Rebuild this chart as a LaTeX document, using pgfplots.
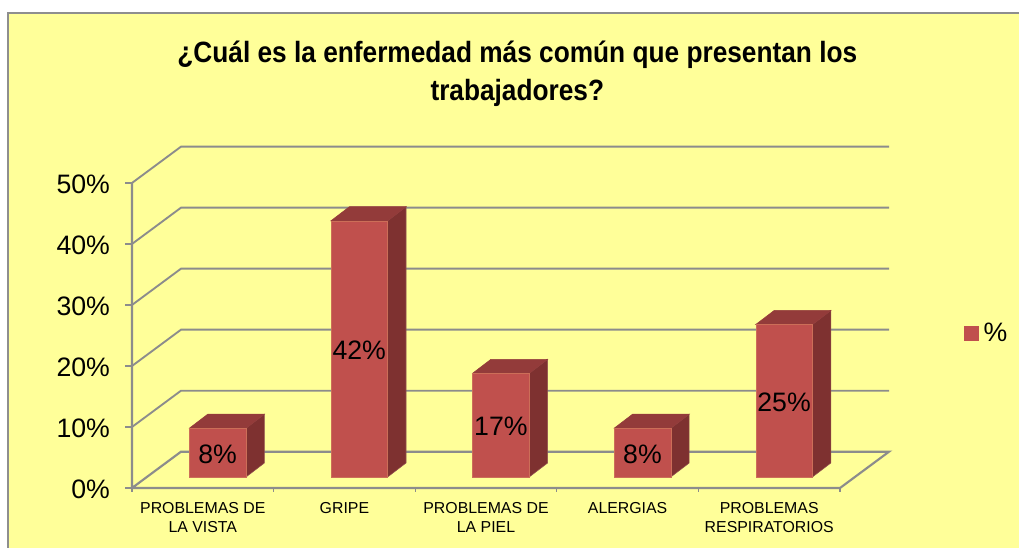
\documentclass[border=0pt]{standalone}
\usepackage{graphicx}
\usepackage{fontspec}
\setmainfont{Liberation Sans}
\usepackage{pgfplots}
\pgfplotsset{compat=1.18}
\definecolor{chartbg}{HTML}{FFFF99}
\definecolor{framegray}{HTML}{8E8E8E}
\definecolor{gridgray}{HTML}{8C8C8C}
\definecolor{barfront}{HTML}{C0504D}
\definecolor{bartop}{HTML}{933B3A}
\definecolor{barside}{HTML}{7E3130}
\definecolor{baredge}{HTML}{CC6E58}

% depth of the wall, offset of a bar on the floor, depth of a bar
\def\wallx{0.346}
\def\wally{5.95}
\def\basey{1.8}
\def\depx{0.13}
\def\depy{2.3}
\def\halfw{0.2}

% #1 bar centre, #2 value
\newcommand{\threedbar}[2]{%
  \edef\xl{\fpeval{#1-\halfw}}\edef\xr{\fpeval{#1+\halfw}}%
  \edef\xrb{\fpeval{#1+\halfw+\depx}}\edef\xlb{\fpeval{#1-\halfw+\depx}}%
  \edef\yb{\basey}\edef\yt{\fpeval{\basey+#2}}%
  \edef\ybb{\fpeval{\basey+\depy}}\edef\ytb{\fpeval{\basey+#2+\depy}}%
  \edef\ymid{\fpeval{\basey+#2/2}}%
  \edef\drawit{%
    \noexpand\addplot[forget plot,fill=barside,draw=barside!85!white,line width=0.4pt]
      coordinates {(\xr,\yb) (\xrb,\ybb) (\xrb,\ytb) (\xr,\yt)} -- cycle;
    \noexpand\addplot[forget plot,fill=bartop,draw=bartop,line width=0.4pt]
      coordinates {(\xl,\yt) (\xr,\yt) (\xrb,\ytb) (\xlb,\ytb)} -- cycle;
    \noexpand\addplot[forget plot,fill=barfront,draw=baredge,line width=0.3pt]
      coordinates {(\xl,\yb) (\xr,\yb) (\xr,\yt) (\xl,\yt)} -- cycle;
    \noexpand\node[font=\noexpand\fontsize{20}{24}\noexpand\selectfont,text=black,yshift=-1pt]
      at (axis cs:#1,\ymid) {#2\noexpand\%};
  }\drawit
}

\begin{document}
\begin{tikzpicture}[x=0.75pt,y=0.75pt]
\path[use as bounding box] (0,0) rectangle (1019,548);
\fill[chartbg] (8,0) rectangle (1019,535);
\draw[framegray,line width=1.5pt] (8,0) -- (8,535) -- (1019,535);
\begin{axis}[
  at={(99pt,45pt)}, anchor=south west,
  scale only axis, width=567.75pt, height=256pt,
  xmin=0, xmax=5.346, ymin=0, ymax=55.95,
  clip=false,
  axis line style={draw=none},
  tick align=outside, tick pos=left,
  xtick={0.5,1.5,2.5,3.5,4.5},
  xticklabels={{PROBLEMAS DE\\LA VISTA},{GRIPE},{PROBLEMAS DE\\LA PIEL},{ALERGIAS},{PROBLEMAS\\RESPIRATORIOS}},
  minor xtick={0,1,2,3,4,5},
  major x tick style={draw=none},
  minor x tick style={gridgray,line width=1pt},
  minor tick length=3pt,
  x tick label style={font=\fontsize{11.9}{14.3}\selectfont,align=center,anchor=north,yshift=-1.8pt},
  ytick={0,10,20,30,40,50},
  yticklabel={\pgfmathprintnumber{\tick}\%},
  y tick style={gridgray,line width=1.2pt},
  major tick length=5.25pt,
  y tick label style={font=\fontsize{20}{24}\selectfont,xshift=-7.75pt,yshift=-1.2pt},
  /pgf/number format/assume math mode=true,
  title={\textbf{\scalebox{0.895}[1]{¿Cuál es la enfermedad más común que presentan los}}\\\textbf{\scalebox{0.895}[1]{trabajadores?}}},
  title style={at={(0.509,1)},anchor=south,yshift=20.8pt,align=center,font=\fontsize{22}{28.5}\selectfont},
  legend style={at={(1.0993,0.454)},anchor=west,draw=none,fill=none,font=\fontsize{20}{24}\selectfont,inner sep=0pt},
  legend cell align=left,
]
\addlegendimage{legend image code/.code={\fill[barfront] (0pt,-5.2pt) rectangle (10.5pt,5.2pt);}}
\addlegendentry{\hspace{1.5pt}\%}

% back wall levels
\pgfplotsinvokeforeach{10,20,30,40,50}{
  \addplot[forget plot,gridgray,line width=1.4pt] coordinates {(0,#1) (\wallx,#1+\wally) (5.346,#1+\wally)};
}
% floor and left edge
\addplot[forget plot,gridgray,line width=1.6pt] coordinates {(0,50) (0,0) (5,0) (5.346,5.95) (0.346,5.95) (0,0)};

\threedbar{0.605}{8}
\threedbar{1.605}{42}
\threedbar{2.605}{17}
\threedbar{3.605}{8}
\threedbar{4.605}{25}
\end{axis}
\end{tikzpicture}
\end{document}
